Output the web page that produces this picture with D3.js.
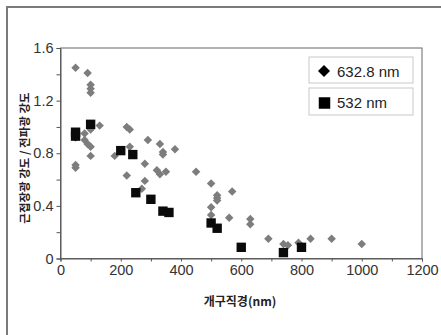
<!DOCTYPE html>
<html><head><meta charset="utf-8">
<script src="https://cdn.jsdelivr.net/npm/d3@7"></script>
<style>body{margin:0;background:#fff}svg{display:block}</style>
</head><body><svg id="c" width="441" height="335"></svg>
<script>
const seriesNames = ["632.8 nm", "532 nm"];
const x632 = [50,90,100,100,100,130,100,50,80,80,90,100,100,50,50,220,230,230,180,220,290,280,280,270,330,340,340,380,320,330,350,450,500,500,500,520,520,520,570,560,630,630,690,740,755,790,830,900,1000];
const y632 = [1.45,1.41,1.32,1.29,1.26,1.01,0.98,0.92,0.95,0.90,0.87,0.85,0.78,0.71,0.69,1.00,0.98,0.85,0.78,0.63,0.90,0.72,0.59,0.53,0.87,0.81,0.79,0.83,0.67,0.64,0.66,0.66,0.57,0.39,0.33,0.48,0.46,0.44,0.51,0.31,0.30,0.26,0.15,0.11,0.10,0.12,0.15,0.15,0.11];
const x532 = [50,50,100,200,240,250,300,340,360,500,520,600,740,800];
const y532 = [0.96,0.93,1.02,0.82,0.79,0.50,0.45,0.36,0.35,0.27,0.23,0.085,0.045,0.085];
const xTicks = [0,200,400,600,800,1000,1200];
const yTicks = [0,0.4,0.8,1.2,1.6];
const xLabel = "개구직경(nm)";
const yLabel = "근접장광 강도 / 전파광 강도";

const svg = d3.select("#c");
const L=60.5, R=422, T=48, B=258.5;
const x = d3.scaleLinear().domain([0,1200]).range([L,R]);
const y = d3.scaleLinear().domain([0,1.6]).range([B,T]);

// outer frame
svg.append("path").attr("d","M7,335 V7 H441").attr("fill","none").attr("stroke","#7a7a7a").attr("stroke-width",2);

// plot frame
svg.append("rect").attr("x",L).attr("y",T).attr("width",R-L).attr("height",B-T)
  .attr("fill","none").attr("stroke","#666").attr("stroke-width",1);

const xa = svg.append("g").attr("transform",`translate(0,${B})`)
  .call(d3.axisBottom(x).tickValues(d3.range(0,1201,100)).tickSize(3).tickFormat(d=>xTicks.includes(d)?d:""));
const ya = svg.append("g").attr("transform",`translate(${L},0)`)
  .call(d3.axisLeft(y).tickValues(d3.range(0,1.61,0.2)).tickSize(4).tickFormat(d=>{const m=yTicks.find(t=>Math.abs(t-d)<1e-6);return m===undefined?"":(m===0?"0":d3.format(".1f")(m));}));
[xa,ya].forEach(a=>{a.select(".domain").attr("stroke","#555");a.selectAll(".tick line").attr("stroke","#555");
  a.selectAll("text").attr("font-family","Liberation Sans, Arial, sans-serif").attr("font-size",14.5).attr("fill","#333");});
xa.selectAll("text").attr("dy","0.9em").attr("y",3);
ya.selectAll("text").attr("x",-7);

// axis labels
svg.append("text").attr("x",240).attr("y",306).attr("text-anchor","middle")
  .attr("font-family","Noto Sans CJK KR, sans-serif").attr("font-weight","bold").attr("font-size",12).attr("fill","#222").text(xLabel);
svg.append("text").attr("transform","translate(29,158) rotate(-90)").attr("text-anchor","middle")
  .attr("font-family","Noto Sans CJK KR, sans-serif").attr("font-weight","bold").attr("font-size",11.5).attr("fill","#222").text(yLabel);

const diamond = d3.symbol().type(d3.symbolSquare).size(36)();
const square = d3.symbol().type(d3.symbolSquare).size(88)();

svg.append("g").selectAll("path").data(x632.map((v,i)=>[v,y632[i]])).join("path")
  .attr("d",diamond).attr("transform",d=>`translate(${x(d[0])},${y(d[1])}) rotate(45)`).attr("fill","#7d7d7d");
svg.append("g").selectAll("path").data(x532.map((v,i)=>[v,y532[i]])).join("path")
  .attr("d",square).attr("transform",d=>`translate(${x(d[0])},${y(d[1])})`).attr("fill","#0a0a0a");

// legend
const lg = svg.append("g");
[[57,83],[88,115]].forEach(([a,b],i)=>{
  lg.append("rect").attr("x",309).attr("y",a).attr("width",104).attr("height",b-a).attr("fill","#fff").attr("stroke","#c8c8c8").attr("stroke-width",1);
});
lg.append("path").attr("d",d3.symbol().type(d3.symbolSquare).size(72)()).attr("transform","translate(324,71) rotate(45)").attr("fill","#000");
lg.append("path").attr("d",d3.symbol().type(d3.symbolSquare).size(132)()).attr("transform","translate(324.5,103)").attr("fill","#000");
lg.selectAll("text.l").data(seriesNames).join("text").attr("x",337).attr("y",(d,i)=>i?108:77)
  .attr("font-family","Liberation Sans, Arial, sans-serif").attr("font-size",15).attr("fill","#222").text(d=>d);
</script></body></html>
